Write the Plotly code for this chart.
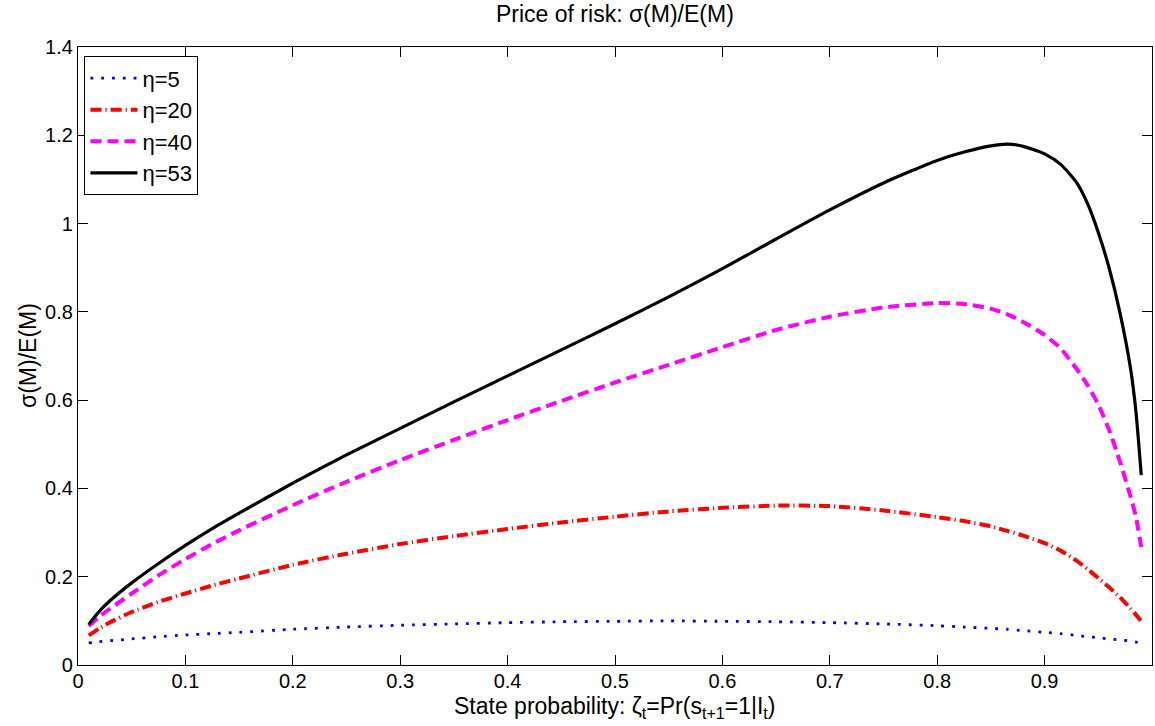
import plotly.graph_objects as go

# State probability grid (zeta_t)
zeta = [0.01, 0.02, 0.03, 0.05, 0.075, 0.1, 0.125, 0.15, 0.2, 0.25, 0.3, 0.35,
        0.4, 0.45, 0.5, 0.55, 0.6, 0.65, 0.7, 0.75, 0.8, 0.825, 0.85, 0.865,
        0.88, 0.9, 0.915, 0.93, 0.94, 0.95, 0.96, 0.97, 0.98, 0.985, 0.99]

# Price of risk sigma(M)/E(M) for each eta
eta5 = [0.050, 0.053, 0.055, 0.059, 0.064, 0.068, 0.071, 0.074, 0.081, 0.086,
        0.090, 0.093, 0.096, 0.098, 0.099, 0.100, 0.099, 0.098, 0.096, 0.093,
        0.089, 0.086, 0.083, 0.081, 0.078, 0.074, 0.071, 0.067, 0.064, 0.062,
        0.059, 0.057, 0.054, 0.052, 0.050]
eta20 = [0.067, 0.083, 0.097, 0.120, 0.143, 0.162, 0.180, 0.196, 0.227, 0.252,
         0.274, 0.292, 0.308, 0.323, 0.336, 0.348, 0.356, 0.361, 0.360, 0.350,
         0.335, 0.326, 0.314, 0.304, 0.293, 0.276, 0.259, 0.236, 0.217, 0.197,
         0.176, 0.154, 0.128, 0.114, 0.099]
eta40 = [0.088, 0.110, 0.128, 0.162, 0.203, 0.240, 0.274, 0.305, 0.362, 0.415,
         0.464, 0.510, 0.555, 0.598, 0.640, 0.680, 0.720, 0.759, 0.789, 0.810,
         0.820, 0.818, 0.807, 0.795, 0.777, 0.748, 0.717, 0.670, 0.634, 0.590,
         0.533, 0.462, 0.382, 0.336, 0.267]
eta53 = [0.092, 0.122, 0.146, 0.186, 0.230, 0.271, 0.309, 0.344, 0.412, 0.476,
         0.536, 0.596, 0.655, 0.714, 0.773, 0.834, 0.898, 0.965, 1.031, 1.092,
         1.143, 1.162, 1.176, 1.180, 1.175, 1.158, 1.134, 1.092, 1.045, 0.980,
         0.900, 0.800, 0.672, 0.575, 0.430]

series_names = ["η=5", "η=20", "η=40", "η=53"]

x_ticks = [0, 0.1, 0.2, 0.3, 0.4, 0.5, 0.6, 0.7, 0.8, 0.9, 1]
x_tick_text = ["0", "0.1", "0.2", "0.3", "0.4", "0.5", "0.6", "0.7", "0.8", "0.9", "1"]
y_ticks = [0, 0.2, 0.4, 0.6, 0.8, 1.0, 1.2, 1.4]
y_tick_text = ["0", "0.2", "0.4", "0.6", "0.8", "1", "1.2", "1.4"]

FONT = "Liberation Sans, Arial, Helvetica, sans-serif"
TICK_SIZE = 20
LABEL_SIZE = 23
LEGEND_SIZE = 22

styles = [
    dict(color="#0000ff", width=2.8, dash="2.8px,8px"),
    dict(color="#ff0000", width=4, dash="11px,4px,1.2px,4px"),
    dict(color="#ff00ff", width=4, dash="11px,6px"),
    dict(color="#000000", width=3.2, dash="solid"),
]

fig = go.Figure()
for name, vals, st in zip(series_names, [eta5, eta20, eta40, eta53], styles):
    fig.add_trace(go.Scatter(
        x=zeta, y=vals, mode="lines", name=name,
        line=dict(shape="spline", smoothing=0.6, **st),
    ))

axis_common = dict(
    showline=True, linecolor="black", linewidth=1.2, mirror="ticks",
    ticks="inside", ticklen=10, tickwidth=1, tickcolor="black",
    showgrid=False, zeroline=False,
    tickfont=dict(family=FONT, size=TICK_SIZE, color="black"),
)

fig.update_layout(
    width=1155, height=726,
    margin=dict(l=78, r=3, t=47, b=61),
    paper_bgcolor="white", plot_bgcolor="white",
    font=dict(family=FONT, color="black"),
    xaxis=dict(range=[0, 1], tickvals=x_ticks, ticktext=x_tick_text,
               ticklabelstandoff=-2, **axis_common),
    yaxis=dict(range=[0, 1.4], tickvals=y_ticks, ticktext=y_tick_text, **axis_common),
    legend=dict(
        x=0.006, y=0.985, xanchor="left", yanchor="top",
        bgcolor="white", bordercolor="black", borderwidth=1,
        font=dict(family=FONT, size=LEGEND_SIZE, color="black"),
        itemwidth=47, tracegroupgap=0,
    ),
    showlegend=True,
    annotations=[
        dict(text="Price of risk: σ(M)/E(M)", xref="paper", yref="paper",
             x=0.5, y=1 + 33 / 618.5, xanchor="center", yanchor="middle",
             showarrow=False, font=dict(family=FONT, size=LABEL_SIZE)),
        dict(text="State probability: ζ<sub>t</sub>=Pr(s<sub>t+1</sub>=1|I<sub>t</sub>)",
             xref="paper", yref="paper", x=0.5, y=-43 / 618.5,
             xanchor="center", yanchor="middle", showarrow=False,
             font=dict(family=FONT, size=LABEL_SIZE)),
        dict(text="σ(M)/E(M)", xref="paper", yref="paper",
             x=-50 / 1074, y=0.5, xanchor="center", yanchor="middle",
             textangle=-90, showarrow=False, font=dict(family=FONT, size=LABEL_SIZE)),
    ],
)

fig.write_html("out.html")
